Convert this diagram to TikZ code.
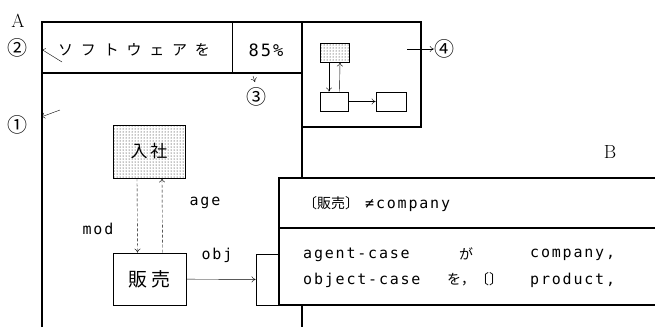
\documentclass[tikz,border=0pt]{standalone}
\usepackage{fontspec}
\newfontfamily\jpfont{Noto Sans CJK JP}
\newfontfamily\jpwide[LetterSpace=52]{Noto Sans CJK JP}
\newfontfamily\codefont[LetterSpace=12]{DejaVu Sans Mono}
\usetikzlibrary{patterns,arrows.meta}

\begin{document}
\begin{tikzpicture}[x=1pt,y=-1pt,
        >={To[length=4pt,width=6pt]},
        framestyle/.style={line width=1.2pt},
        unitbox/.style={rectangle, draw=black, thick, inner sep=0pt},
        dotbox/.style={unitbox, pattern=dots},
        tagnode/.style={font=\fontsize{20}{20}\selectfont\jpfont, inner sep=0pt},
        codetext/.style={font=\fontsize{15}{15}\selectfont\codefont, inner sep=0pt},
    ]
    \useasboundingbox (0,0) rectangle (655,327);

    % frame A with its header and the small view
    \draw[framestyle] (42,327) -- (42,22) -- (421,22) -- (421,127) -- (302,127);
    \draw[framestyle] (302,22) -- (302,178);
    \draw[framestyle] (302,305) -- (302,327);
    \draw[framestyle] (42,73) -- (302,73);
    \draw[thick] (232,22) -- (232,73);

    % frame B
    \draw[framestyle] (655,178) -- (279,178) -- (279,305) -- (655,305);
    \draw[framestyle] (279,228) -- (655,228);

    \node[inner sep=0pt] (labA) at (18,21) {\fontsize{19}{19}\selectfont A};
    \node[inner sep=0pt] (labB) at (610,152) {\fontsize{19}{19}\selectfont B};

    \node[tagnode] (tag1) at (18,125) {①};
    \node[tagnode] (tag2) at (17,48)  {②};
    \node[tagnode] (tag3) at (256,97) {③};
    \node[tagnode] (tag4) at (444,49) {④};

    \coordinate (from1) at (60,110);
    \coordinate (to1)   at (41,117);
    \coordinate (from2) at (62,62);
    \coordinate (to2)   at (41,49);
    \coordinate (from3) at (253,76);
    \coordinate (to3)   at (255,82);
    \coordinate (from4) at (407,49);
    \draw[->] (from1) -- (to1);
    \draw[->] (from2) -- (to2);
    \draw[->] (from3) -- (to3);
    \draw[->] (from4) -- (tag4.west);

    % header texts
    \node[anchor=west, inner sep=0pt, font=\fontsize{15}{15}\selectfont\jpwide] (title) at (58,50) {ソフトウェアを};
    \node[inner sep=0pt, font=\fontsize{17}{17}\selectfont\codefont] (rate) at (266,50) {85\%};

    % small view
    \node[dotbox, minimum width=29, minimum height=19] (miniTop) at (334.5,52.5) {};
    \node[unitbox, minimum width=28, minimum height=19] (miniLeft) at (334,101.5) {};
    \node[unitbox, minimum width=30, minimum height=19] (miniRight) at (391,101.5) {};
    \draw[->, thin] ([xshift=-5.5pt]miniTop.south) -- ([xshift=-5pt]miniLeft.north);
    \draw[->, thin] ([xshift=5.5pt]miniLeft.north) -- ([xshift=5.5pt]miniTop.south);
    \draw[->] (miniLeft) -- (miniRight);

    % frame contents
    \node[dotbox, minimum width=72, minimum height=53, font=\fontsize{17}{17}\selectfont\jpfont] (nyusha) at (149,151.5) {入\,社};
    \node[unitbox, minimum width=73, minimum height=52, font=\fontsize{19}{19}\selectfont\jpfont] (hanbai) at (149.5,279) {販\,売};
    \node[unitbox, minimum width=23, minimum height=51] (slot) at (267.5,279.5) {};

    \draw[->, thin, densely dashed] ([xshift=-12pt]nyusha.south) -- ([xshift=-12pt]hanbai.north);
    \draw[->, thin, densely dashed] ([xshift=13pt]hanbai.north) -- ([xshift=13pt]nyusha.south);
    \draw[->] (hanbai) -- (slot);

    \node[codetext] (modlabel) at (98,229) {mod};
    \node[codetext] (agelabel) at (205,203) {age};
    \node[codetext] (objlabel) at (217,255) {obj};

    % frame B texts
    \node[anchor=west, inner sep=0pt] (frameName) at (303,204) {{\fontsize{14}{14}\selectfont\jpfont 〔販売〕}\hspace{6pt}{\fontsize{15}{15}\selectfont\codefont ≠company}};
    \node[codetext, anchor=west] (slotA) at (303,255) {agent-case};
    \node[codetext, anchor=west, font=\fontsize{14}{14}\selectfont\jpfont] (markA) at (459,254) {が};
    \node[codetext, anchor=west] (fillA) at (530,255) {company,};
    \node[codetext, anchor=west] (slotB) at (303,280) {object-case};
    \node[codetext, anchor=west, font=\fontsize{14}{14}\selectfont\jpfont] (markB) at (447,279) {を，〔〕};
    \node[codetext, anchor=west] (fillB) at (530,280) {product,};
\end{tikzpicture}
\end{document}
